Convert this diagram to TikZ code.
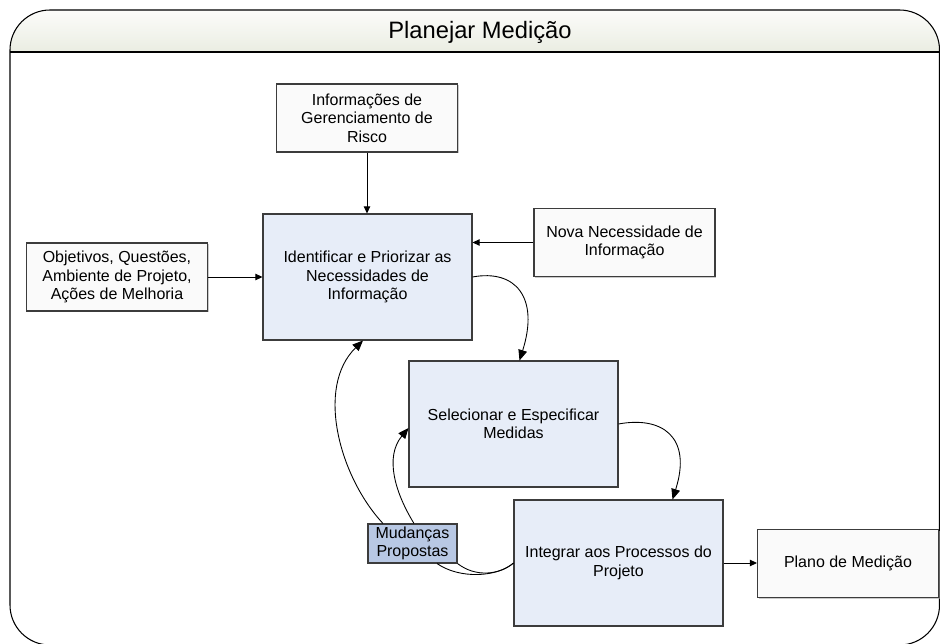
\documentclass[tikz,border=0pt]{standalone}
\usepackage{fontspec}
\setmainfont{Liberation Sans}
\usetikzlibrary{arrows.meta, positioning, calc, shadows}

\definecolor{caixaazul}{RGB}{231,237,248}
\definecolor{caixamud}{RGB}{184,200,228}
\definecolor{caixabranca}{RGB}{250,250,250}
\definecolor{bordacinza}{RGB}{60,60,60}
\definecolor{cabtopo}{RGB}{252,252,250}
\definecolor{cabbase}{RGB}{234,237,226}

\begin{document}
\begin{tikzpicture}[x=0.02cm, y=0.02cm,
    caixa/.style={draw=bordacinza, line width=0.6pt, fill=caixabranca, align=center, inner sep=0pt,
        minimum width=3.62cm, minimum height=1.36cm, font=\fontsize{9.1}{10.5}\selectfont,
        drop shadow={shadow xshift=0.6pt, shadow yshift=-0.6pt, fill=gray!70, opacity=0.6}},
    processo/.style={caixa, fill=caixaazul, minimum width=4.18cm, minimum height=2.52cm},
    mudanca/.style={caixa, fill=caixamud, minimum width=1.78cm, minimum height=0.78cm},
    seta/.style={-{Triangle[length=4pt,width=3.6pt]}, line width=0.5pt},
    setacurva/.style={-{Triangle[length=6pt,width=5pt]}, line width=0.5pt},
    ligacao/.style={line width=0.5pt}]
            \useasboundingbox (0,0) rectangle (940,643);

            % Moldura com cabecalho
            \begin{scope}
                \clip[rounded corners=0.8cm] (10,-2) rectangle (939.5,633);
                \fill[top color=cabtopo, bottom color=cabbase] (10,591) rectangle (939.5,633);
            \end{scope}
            \draw[line width=0.6pt, rounded corners=0.8cm] (10,-2) rectangle (939.5,633);
            \draw[line width=0.6pt] (10,591) -- (939.5,591);
            \node[font=\fontsize{13.5}{16}\selectfont] (titulo) at (480,611) {Planejar Medição};

            % Entradas e saida
            \node[caixa] (risco) at (367,525) {Informações de\\Gerenciamento de\\Risco};
            \node[caixa] (objetivos) at (117,366) {Objetivos, Questões,\\Ambiente de Projeto,\\Ações de Melhoria};
            \node[caixa] (nova) at (624.5,400.5) {Nova Necessidade de\\Informação};
            \node[caixa] (plano) at (848,79.5) {Plano de Medição};

            % Atividades
            \node[processo] (identificar) at (367.5,366) {Identificar e Priorizar as\\Necessidades de\\Informação};
            \node[processo] (selecionar) at (513.5,219) {Selecionar e Especificar\\Medidas};
            \node[processo] (integrar) at (618.5,80) {Integrar aos Processos do\\Projeto};
            \node[mudanca] (mudancas) at (412.5,99.5) {Mudanças\\Propostas};

            % Setas retas
            \draw[seta] (risco.south) -- (risco.south |- identificar.north);
            \draw[seta] (objetivos.east) -- (identificar.west);
            \draw[seta] (nova.west) -- (nova.west -| identificar.east);
            \draw[seta] (integrar.east) -- (integrar.east -| plano.west);

            % Sequencia das atividades
            \draw[setacurva] (identificar.east) .. controls +(43,8) and +(20,63) .. ($(selecionar.north)+(6,0)$);
            \draw[setacurva] (selecionar.east) .. controls +(43,8) and +(20,63) .. ($(integrar.north)+(54,0)$);

            % Mudancas propostas
            \draw[setacurva] ($(mudancas.north)+(-29.5,0)$) .. controls +(-43,46) and +(-48,-47) .. ($(identificar.south)+(-4.5,0)$);
            \draw[setacurva] ($(mudancas.north)+(1.5,0)$) .. controls +(-19,31) and +(-24,-29) .. ($(selecionar.west)+(0,-4)$);
            \draw[ligacao] (integrar.west) .. controls +(-14,-12) and +(18,-14) .. (mudancas.south east);
            \draw[ligacao] (integrar.west) .. controls +(-16,-14) and +(23,-16) .. ($(mudancas.south)+(24.5,0)$);
\end{tikzpicture}
\end{document}
